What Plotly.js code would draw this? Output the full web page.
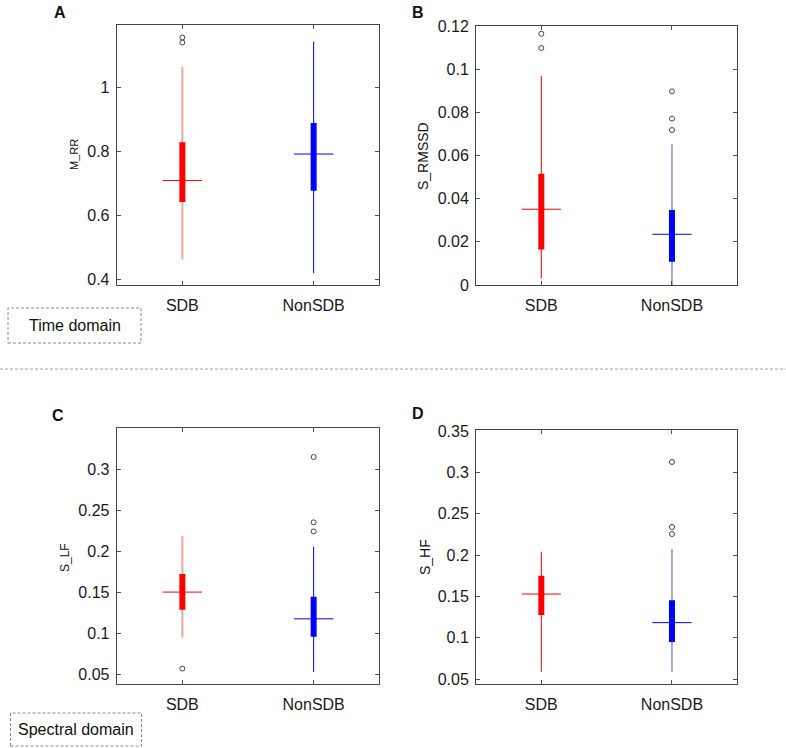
<!DOCTYPE html>
<html>
<head>
<meta charset="utf-8">
<script src="https://cdn.plot.ly/plotly-3.0.1.min.js"></script>
<style>
  html, body { margin: 0; padding: 0; background: #fff; }
  #chart { width: 786px; height: 748px; }
</style>
</head>
<body>
<div id="chart"></div>
<script>
// groups on the x axis
var cats = ['SDB', 'NonSDB'];

// A: M_RR  (values per group: SDB, NonSDB)
var aLow  = [0.462, 0.419];
var aQ1   = [0.642, 0.677];
var aMed  = [0.709, 0.792];
var aQ3   = [0.829, 0.889];
var aHigh = [1.065, 1.144];
var aOut  = [[1.141, 1.157], []];

// B: S_RMSSD
var bLow  = [0.003, 0];
var bQ1   = [0.0165, 0.0108];
var bMed  = [0.0351, 0.0235];
var bQ3   = [0.0516, 0.0347];
var bHigh = [0.0968, 0.0652];
var bOut  = [[0.1098, 0.1164], [0.0718, 0.0771, 0.0897]];

// C: S_LF
var cLow  = [0.0946, 0.0528];
var cQ1   = [0.1284, 0.0955];
var cMed  = [0.150, 0.1174];
var cQ3   = [0.1719, 0.1443];
var cHigh = [0.2186, 0.2056];
var cOut  = [[0.0568], [0.2239, 0.235, 0.3146]];

// D: S_HF
var dLow  = [0.0588, 0.0588];
var dQ1   = [0.1274, 0.0947];
var dMed  = [0.1528, 0.1182];
var dQ3   = [0.175, 0.1452];
var dHigh = [0.204, 0.2073];
var dOut  = [[], [0.2254, 0.2339, 0.3125]];

var W = 786, H = 748;
function px(x) { return x / W; }
function py(y) { return 1 - y / H; }

var solid = ['#ff0000', '#0000ff'];
var faint = ['#f2a4a4', '#a4aae6'];

// which whisker is drawn faint in each panel (jpeg look of the original)
var panels = [
  { ax: '',  low: aLow, q1: aQ1, med: aMed, q3: aQ3, high: aHigh, out: aOut, faint: [true, false] },
  { ax: '2', low: bLow, q1: bQ1, med: bMed, q3: bQ3, high: bHigh, out: bOut, faint: [false, true] },
  { ax: '3', low: cLow, q1: cQ1, med: cMed, q3: cQ3, high: cHigh, out: cOut, faint: [true, false] },
  { ax: '4', low: dLow, q1: dQ1, med: dMed, q3: dQ3, high: dHigh, out: dOut, faint: [false, true] }
];

var traces = [];
panels.forEach(function(p) {
  var xa = 'x' + p.ax, ya = 'y' + p.ax;
  cats.forEach(function(c, i) {
    var xi = i + 1;
    // whisker
    traces.push({
      x: [xi, xi], y: [p.low[i], p.high[i]], xaxis: xa, yaxis: ya,
      type: 'scatter', mode: 'lines', showlegend: false, hoverinfo: 'skip',
      line: { color: p.faint[i] ? faint[i] : solid[i], width: p.faint[i] ? 2 : 1 }
    });
    // box (compact style: thick line)
    traces.push({
      x: [xi, xi], y: [p.q1[i], p.q3[i]], xaxis: xa, yaxis: ya,
      type: 'scatter', mode: 'lines', showlegend: false, name: c,
      line: { color: solid[i], width: 6 }
    });
    // median
    traces.push({
      x: [xi - 0.15, xi + 0.15], y: [p.med[i], p.med[i]], xaxis: xa, yaxis: ya,
      type: 'scatter', mode: 'lines', showlegend: false, hoverinfo: 'skip',
      line: { color: solid[i], width: 1 }
    });
    // outliers
    if (p.out[i].length) {
      traces.push({
        x: p.out[i].map(function() { return xi; }), y: p.out[i], xaxis: xa, yaxis: ya,
        type: 'scatter', mode: 'markers', showlegend: false,
        marker: { symbol: 'circle-open', size: 5, color: '#444', line: { width: 1 } }
      });
    }
  });
});

var font = { family: 'Liberation Sans, Arial, sans-serif', size: 16, color: '#1a1a1a' };

function xAxis(x0, x1, anchor) {
  return {
    domain: [px(x0), px(x1)], anchor: anchor, range: [0.5, 2.5],
    tickvals: [1, 2], ticktext: cats, ticks: 'inside', ticklen: 4, tickcolor: '#555',
    showline: true, linecolor: '#444', linewidth: 1, mirror: 'ticks',
    showgrid: false, zeroline: false, ticklabelstandoff: 6, tickfont: font, fixedrange: true
  };
}
function yAxis(y0, y1, anchor, range, dtick) {
  return {
    domain: [py(y1), py(y0)], anchor: anchor, range: range, dtick: dtick, tick0: 0,
    ticks: 'inside', ticklen: 4, tickcolor: '#555',
    showline: true, linecolor: '#444', linewidth: 1, mirror: 'ticks',
    showgrid: false, zeroline: false, ticklabelstandoff: 3, tickfont: font, fixedrange: true
  };
}

function label(t, x, y, size, bold, angle) {
  return {
    xref: 'paper', yref: 'paper', x: px(x), y: py(y), xanchor: 'center', yanchor: 'middle',
    text: bold ? '<b>' + t + '</b>' : t, showarrow: false, textangle: angle || 0,
    font: { family: 'Liberation Sans, Arial, sans-serif', size: size, color: '#111' }
  };
}

var layout = {
  width: W, height: H,
  margin: { l: 0, r: 0, t: 0, b: 0 },
  paper_bgcolor: '#fff', plot_bgcolor: '#fff',
  font: font,
  showlegend: false,
  xaxis:  xAxis(116.7, 379.3, 'y'),
  yaxis:  yAxis(25, 285, 'x', [0.382, 1.196], 0.2),
  xaxis2: xAxis(476, 737.3, 'y2'),
  yaxis2: yAxis(26, 285, 'x2', [0, 0.12], 0.02),
  xaxis3: xAxis(116.7, 379.3, 'y3'),
  yaxis3: yAxis(428.3, 684, 'x3', [0.038, 0.3496], 0.05),
  xaxis4: xAxis(476, 737.3, 'y4'),
  yaxis4: yAxis(430, 684, 'x4', [0.044, 0.3512], 0.05),
  annotations: [
    label('A', 60, 13, 16, true),
    label('B', 418, 13, 16, true),
    label('C', 58, 415, 16, true),
    label('D', 418, 413, 16, true),
    label('M_RR', 74, 155, 11, false, -90),
    label('S_RMSSD', 423, 156, 14, false, -90),
    label('S_LF', 65, 558, 12, false, -90),
    label('S_HF', 425, 557, 14, false, -90),
    label('Time domain', 74.5, 325.5, 16, false),
    label('Spectral domain', 76, 729.5, 16, false)
  ],
  shapes: [
    { type: 'line', xref: 'paper', yref: 'paper', x0: 0, x1: 1, y0: py(369), y1: py(369),
      line: { color: '#a0a0a0', width: 1, dash: '3px,2px' } },
    { type: 'rect', xref: 'paper', yref: 'paper', x0: px(8), x1: px(141), y0: py(343), y1: py(308),
      line: { color: '#8a8a8a', width: 1, dash: '3px,2px' } },
    { type: 'rect', xref: 'paper', yref: 'paper', x0: px(10.5), x1: px(141.5), y0: py(746), y1: py(713),
      line: { color: '#8a8a8a', width: 1, dash: '3px,2px' } }
  ]
};

Plotly.newPlot('chart', traces, layout, { displayModeBar: false, staticPlot: true });
</script>
</body>
</html>
